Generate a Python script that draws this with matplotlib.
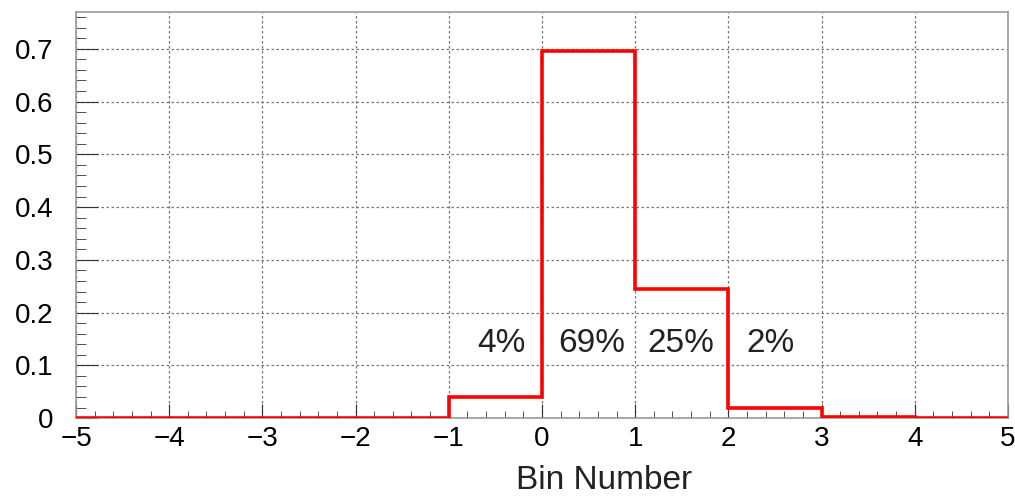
import numpy as np
import matplotlib.pyplot as plt
from matplotlib.ticker import MultipleLocator, FuncFormatter

plt.rcParams['font.family'] = ['Liberation Sans', 'DejaVu Sans']

# bin contents
edges = [-5, -4, -3, -2, -1, 0, 1, 2, 3, 4, 5]
values = [0, 0, 0, 0, 0.040, 0.695, 0.245, 0.019, 0.003, 0]
labels = ['4%', '69%', '25%', '2%']
label_x = [-0.43, 0.53, 1.49, 2.45]
label_y = 0.142

fig = plt.figure(figsize=(10.15, 4.96), dpi=100)
ax = fig.add_axes([0.0749, 0.157, 0.9181, 0.819])

ax.stairs(values, edges, color='#ff0000', lw=2.6, baseline=0, zorder=3)

for x, t in zip(label_x, labels):
    ax.text(x, label_y, t, ha='center', va='center', fontsize=24, color='#222222')

ax.set_xlim(-5, 5)
ax.set_ylim(0, 0.77)
ax.xaxis.set_major_locator(MultipleLocator(1))
ax.xaxis.set_minor_locator(MultipleLocator(0.2))
ax.yaxis.set_major_locator(MultipleLocator(0.1))
ax.yaxis.set_minor_locator(MultipleLocator(0.02))
ax.yaxis.set_major_formatter(FuncFormatter(lambda v, p: '0' if abs(v) < 1e-9 else f'{v:.1f}'))

ax.grid(True, which='major', ls=(0, (2, 2)), color='#777777', lw=0.9)
ax.tick_params(which='both', direction='in', top=False, right=False,
               labelsize=20, color='#333333')
ax.tick_params(axis='x', which='major', length=10, pad=6)
ax.tick_params(axis='x', which='minor', length=5)
ax.tick_params(axis='y', which='major', length=16, pad=16)
ax.tick_params(axis='y', which='minor', length=7)
for s in ax.spines.values():
    s.set_color('#999999')
    s.set_linewidth(1.2)

ax.set_xlabel('Bin Number', fontsize=24, color='#222222', va='bottom')
ax.xaxis.set_label_coords(0.567, -0.192)

fig.savefig('out.png', dpi=100)
